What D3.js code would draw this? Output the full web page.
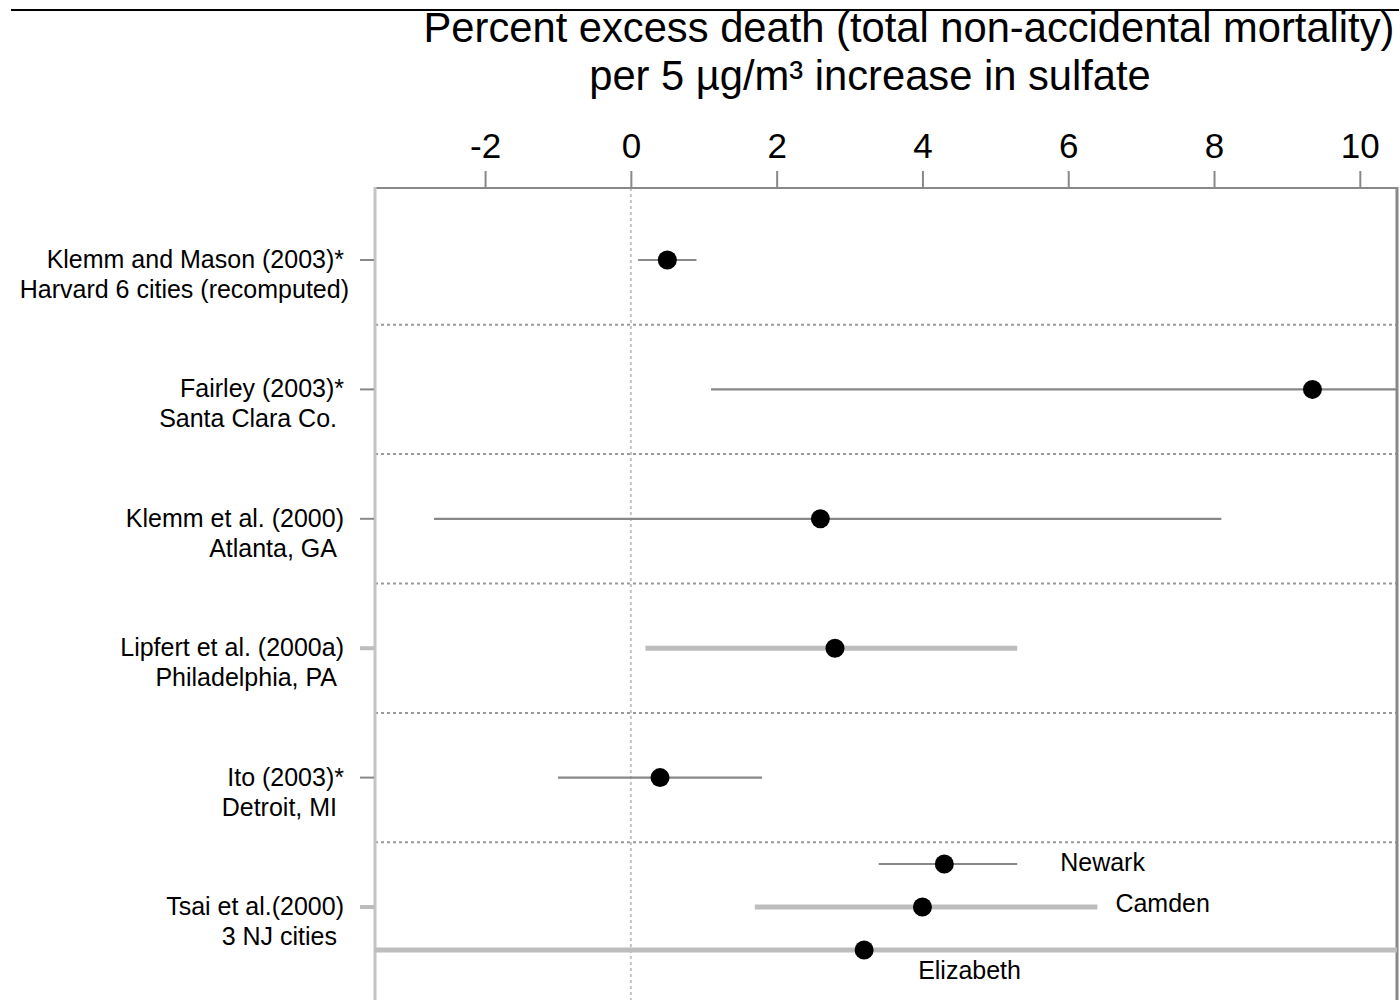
<!DOCTYPE html>
<html><head><meta charset="utf-8">
<script src="https://cdn.jsdelivr.net/npm/d3@7"></script>
<style>
html,body{margin:0;padding:0;background:#fff;}
svg{display:block;}
text{font-family:"Liberation Sans",Arial,Helvetica,sans-serif;fill:#000;}
</style></head>
<body>
<svg id="chart" width="1399" height="1000"></svg>
<script>
// ---- data ----
const studies = ["Klemm and Mason (2003)*", "Fairley (2003)*", "Klemm et al. (2000)", "Lipfert et al. (2000a)", "Ito (2003)*", "Tsai et al.(2000)"];
const locations = ["Harvard 6 cities (recomputed)", "Santa Clara Co.", "Atlanta, GA", "Philadelphia, PA", "Detroit, MI", "3 NJ cities"];
const estimates = [0.5, 9.35, 2.6, 2.8, 0.4];
const lowers = [0.1, 1.1, -2.7, 0.2, -1.0];
const uppers = [0.9, 17.5, 8.1, 5.3, 1.8];
const barTypes = ["thin", "thin", "thin", "thick", "thin"];
const cities = ["Newark", "Camden", "Elizabeth"];
const cityEstimates = [4.3, 4.0, 3.2];
const cityLowers = [3.4, 1.7, -11];
const cityUppers = [5.3, 6.4, 17];
const cityBarTypes = ["thin", "thick", "thick"];
const xTicks = [-2, 0, 2, 4, 6, 8, 10];
const titleLines = ["Percent excess death (total non-accidental mortality)", "per 5 \u00B5g/m\u00B3 increase in sulfate"];

// ---- layout ----
const svg = d3.select("#chart");
const panel = {left: 375, right: 1397, top: 188, bottom: 1000};
const x = d3.scaleLinear().domain([-3.51, 10.51]).range([panel.left, panel.right]);
const y = d3.scaleBand().domain(studies).range([195.3, 971.7]);
const sub = d3.scalePoint().domain(cities).range([-43, 43]);
const barStyle = {thin: {stroke: "#888", w: 2.2}, thick: {stroke: "#bdbdbd", w: 5}};
const cy = s => y(s) + y.bandwidth() / 2;
const labelSize = 25;

svg.append("defs").append("clipPath").attr("id", "clip")
  .append("rect").attr("x", panel.left).attr("y", panel.top)
  .attr("width", panel.right - panel.left).attr("height", panel.bottom - panel.top);

// top rule
svg.append("line").attr("x1", 11).attr("x2", 1399).attr("y1", 10).attr("y2", 10)
  .attr("stroke", "#000").attr("stroke-width", 2);

// title
const titleX = [909, 870];
titleLines.forEach((t, i) => {
  svg.append("text").attr("x", titleX[i]).attr("y", 42 + i * 48)
    .attr("text-anchor", "middle").attr("font-size", 41.7).text(t);
});

// top axis
const axis = d3.axisTop(x).tickValues(xTicks).tickSize(17).tickPadding(13).tickFormat(d3.format("d"));
const ag = svg.append("g").attr("transform", `translate(0,${panel.top})`).call(axis);
ag.select(".domain").remove();
ag.selectAll(".tick line").attr("stroke", "#888").attr("stroke-width", 2);
ag.selectAll(".tick text").attr("font-size", 35).attr("fill", "#000")
  .style("font-family", '"Liberation Sans",Arial,sans-serif').text(d => d < 0 ? "-" + Math.abs(d) : d);

// separators
const seps = studies.slice(1).map(s => y(s));
svg.append("g").selectAll("line").data(seps).join("line")
  .attr("x1", panel.left).attr("x2", 1399).attr("y1", d => d).attr("y2", d => d)
  .attr("stroke", "#999").attr("stroke-width", 2).attr("stroke-dasharray", "3,3");

// zero line
svg.append("line").attr("x1", x(0)).attr("x2", x(0)).attr("y1", panel.top).attr("y2", panel.bottom)
  .attr("stroke", "#c4c4c4").attr("stroke-width", 2).attr("stroke-dasharray", "3,3");

// panel borders
svg.append("line").attr("x1", panel.left).attr("x2", panel.right + 1).attr("y1", panel.top).attr("y2", panel.top)
  .attr("stroke", "#888").attr("stroke-width", 2);
svg.append("line").attr("x1", panel.left).attr("x2", panel.left).attr("y1", panel.top - 1).attr("y2", panel.bottom)
  .attr("stroke", "#c4c4c4").attr("stroke-width", 3);
svg.append("line").attr("x1", panel.right).attr("x2", panel.right).attr("y1", panel.top - 1).attr("y2", panel.bottom)
  .attr("stroke", "#888").attr("stroke-width", 3);

// row ticks + labels
const rowTickType = studies.map((s, i) => i < estimates.length ? barTypes[i] : cityBarTypes[1]);
svg.append("g").selectAll("line").data(studies).join("line")
  .attr("x1", 360).attr("x2", panel.left - 1).attr("y1", d => cy(d)).attr("y2", d => cy(d))
  .attr("stroke", (d, i) => barStyle[rowTickType[i]].stroke)
  .attr("stroke-width", (d, i) => rowTickType[i] === "thick" ? 4 : 2);

const lab = svg.append("g").attr("font-size", labelSize);
studies.forEach((s, i) => {
  lab.append("text").attr("x", 344).attr("y", cy(s) + 8).attr("text-anchor", "end").text(s);
  lab.append("text").attr("x", i === 0 ? 349 : 337).attr("y", cy(s) + 38).attr("text-anchor", "end").text(locations[i]);
});

// CI + points
const plot = svg.append("g").attr("clip-path", "url(#clip)");
const single = estimates.map((e, i) => ({y: cy(studies[i]), est: e, lo: lowers[i], hi: uppers[i], type: barTypes[i]}));
const tsaiY = cy(studies[5]);
const multi = cityEstimates.map((e, i) => ({y: tsaiY + sub(cities[i]), est: e, lo: cityLowers[i], hi: cityUppers[i], type: cityBarTypes[i], name: cities[i]}));
const all = single.concat(multi);
plot.selectAll("line.ci").data(all).join("line").attr("class", "ci")
  .attr("x1", d => x(d.lo)).attr("x2", d => x(d.hi)).attr("y1", d => d.y).attr("y2", d => d.y)
  .attr("stroke", d => barStyle[d.type].stroke).attr("stroke-width", d => barStyle[d.type].w);
plot.selectAll("circle").data(all).join("circle")
  .attr("cx", d => x(d.est)).attr("cy", d => d.y).attr("r", 9.5).attr("fill", "#000");

// city labels
const cityLabelPos = {Newark: d => [x(d.hi) + 43, d.y + 7], Camden: d => [x(d.hi) + 18, d.y + 5], Elizabeth: d => [x(d.est) + 54, d.y + 29]};
svg.append("g").attr("font-size", labelSize).selectAll("text").data(multi).join("text")
  .attr("x", d => cityLabelPos[d.name](d)[0]).attr("y", d => cityLabelPos[d.name](d)[1]).text(d => d.name);
</script>
</body></html>
